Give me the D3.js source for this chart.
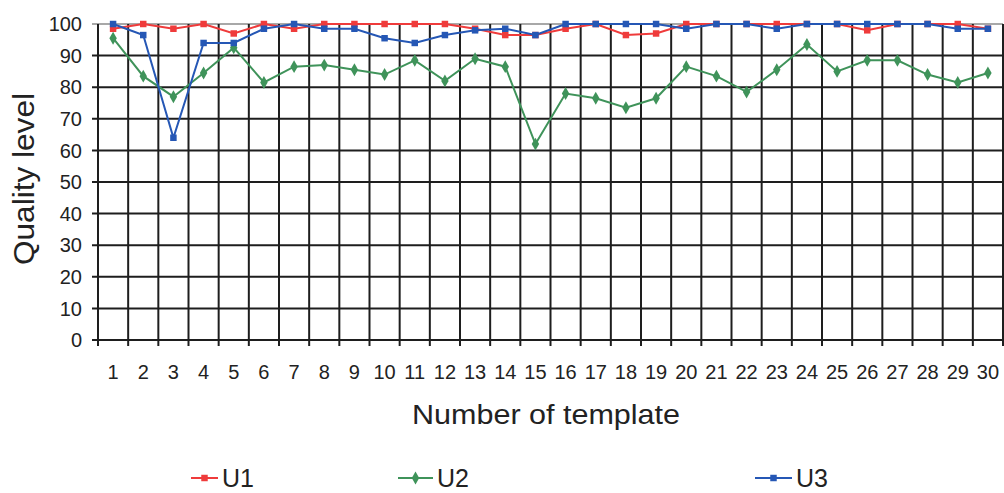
<!DOCTYPE html>
<html>
<head>
<meta charset="utf-8">
<script src="https://cdn.jsdelivr.net/npm/d3@7/dist/d3.min.js"></script>
<style>
  html, body { margin: 0; padding: 0; background: #fff; }
  svg { display: block; font-family: "Liberation Sans", Arial, sans-serif; }
</style>
</head>
<body>
<svg id="chart" width="1004" height="493"></svg>
<script>
// Template numbers along the x axis
const templates = d3.range(1, 31);

// Quality level per template for each user
const u1 = [98.5, 100, 98.5, 100, 97, 100, 98.5, 100, 100, 100,
            100, 100, 98.5, 96.5, 96.5, 98.5, 100, 96.5, 97, 100,
            100, 100, 100, 100, 100, 98, 100, 100, 100, 98.5];
const u2 = [95.5, 83.5, 77, 84.5, 92.5, 81.5, 86.5, 87, 85.5, 84,
            88.5, 82, 89, 86.5, 62, 78, 76.5, 73.5, 76.5, 86.5,
            83.5, 78.5, 85.5, 93.5, 85, 88.5, 88.5, 84, 81.5, 84.5];
const u3 = [100, 96.5, 64, 94, 94, 98.5, 100, 98.5, 98.5, 95.5,
            94, 96.5, 98, 98.5, 96.5, 100, 100, 100, 100, 98.5,
            100, 100, 98.5, 100, 100, 100, 100, 100, 98.5, 98.5];

const seriesNames = ["U1", "U2", "U3"];
const yTicks = d3.range(0, 101, 10);

const series = [
  { name: seriesNames[0], values: u1, color: "#ef3b3b", marker: d3.symbolSquare },
  { name: seriesNames[1], values: u2, color: "#3f935a", marker: d3.symbolDiamond },
  { name: seriesNames[2], values: u3, color: "#2557b5", marker: d3.symbolSquare }
];

const svg = d3.select("#chart");
const plotLeft = 98, plotRight = 1003, plotTop = 24, plotBottom = 340;

const x = d3.scaleBand().domain(templates).range([plotLeft, plotRight]).padding(0);
const y = d3.scaleLinear().domain([0, 100]).range([plotBottom, plotTop]);

const grid = svg.append("g");

// Horizontal gridlines with short ticks to the left of the axis
grid.selectAll("line.h").data(yTicks).join("line")
  .attr("class", "h")
  .attr("x1", plotLeft - 6).attr("x2", plotRight)
  .attr("y1", d => y(d)).attr("y2", d => y(d))
  .attr("stroke", d => d === 100 ? "#a8a8a8" : "#1e1e1e")
  .attr("stroke-width", 2);

// Vertical gridlines on category boundaries, extending below the zero line as ticks
const bounds = templates.map(t => x(t)).concat([plotRight]);
grid.selectAll("line.v").data(bounds).join("line")
  .attr("class", "v")
  .attr("x1", d => d).attr("x2", d => d)
  .attr("y1", plotTop).attr("y2", plotBottom + 6)
  .attr("stroke", "#1e1e1e")
  .attr("stroke-width", 2);

// Y tick labels
svg.append("g").selectAll("text").data(yTicks).join("text")
  .attr("x", 82).attr("y", d => y(d))
  .attr("dy", "0.36em")
  .attr("text-anchor", "end")
  .attr("font-size", 20)
  .attr("fill", "#222")
  .text(d => d);

// X tick labels
svg.append("g").selectAll("text").data(templates).join("text")
  .attr("x", d => x(d) + x.bandwidth() / 2).attr("y", 379)
  .attr("text-anchor", "middle")
  .attr("font-size", 20)
  .attr("fill", "#222")
  .text(d => d);

// Axis titles
svg.append("text")
  .attr("transform", "translate(34,179) rotate(-90)")
  .attr("text-anchor", "middle")
  .attr("font-size", 29)
  .attr("textLength", 172)
  .attr("lengthAdjust", "spacingAndGlyphs")
  .attr("fill", "#222")
  .text("Quality level");

svg.append("text")
  .attr("x", 546).attr("y", 424)
  .attr("text-anchor", "middle")
  .attr("font-size", 27.5)
  .attr("textLength", 268)
  .attr("lengthAdjust", "spacingAndGlyphs")
  .attr("fill", "#222")
  .text("Number of template");

// Series lines and markers
const line = d3.line()
  .x((d, i) => x(templates[i]) + x.bandwidth() / 2)
  .y(d => y(d));

series.forEach(s => {
  const g = svg.append("g");
  g.append("path")
    .attr("d", line(s.values))
    .attr("fill", "none")
    .attr("stroke", s.color)
    .attr("stroke-width", 2);
  g.selectAll("path.m").data(s.values).join("path")
    .attr("class", "m")
    .attr("transform", (d, i) => `translate(${x(templates[i]) + x.bandwidth() / 2},${y(d)})`)
    .attr("d", d3.symbol().type(s.marker).size(s.marker === d3.symbolDiamond ? 48 : 42))
    .attr("fill", s.color);
});

// Legend
const legendPos = [{ x0: 191, tx: 222 }, { x0: 398, tx: 437 }, { x0: 755, tx: 796 }];
const legend = svg.append("g");
series.forEach((s, i) => {
  const p = legendPos[i];
  const lg = legend.append("g");
  lg.append("line")
    .attr("x1", p.x0).attr("x2", p.tx - 4)
    .attr("y1", 478).attr("y2", 478)
    .attr("stroke", s.color).attr("stroke-width", 2);
  lg.append("path")
    .attr("transform", `translate(${(p.x0 + p.tx - 4) / 2},478)`)
    .attr("d", d3.symbol().type(s.marker).size(s.marker === d3.symbolDiamond ? 48 : 42))
    .attr("fill", s.color);
  lg.append("text")
    .attr("x", p.tx).attr("y", 478).attr("dy", "0.36em")
    .attr("font-size", 25)
    .attr("fill", "#222")
    .text(s.name);
});
</script>
</body>
</html>
